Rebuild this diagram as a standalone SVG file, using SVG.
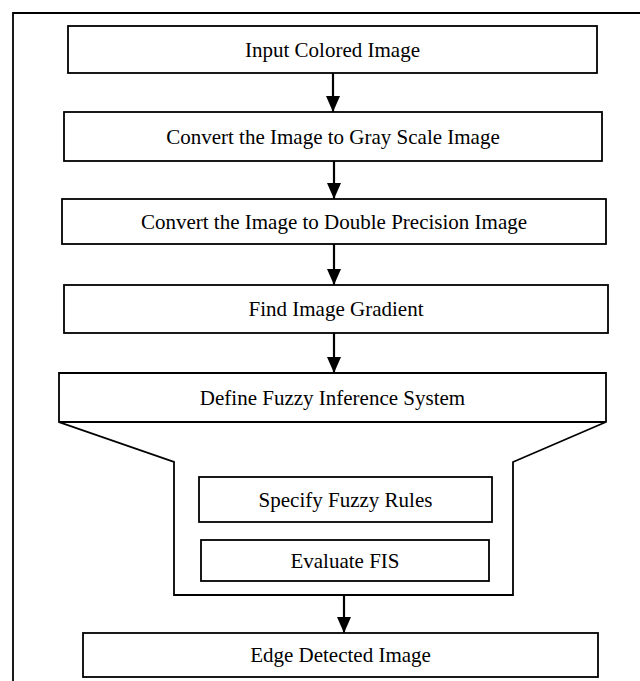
<svg xmlns="http://www.w3.org/2000/svg" width="640" height="681" viewBox="0 0 640 681">
<defs>
<style>
.box{fill:#fff;stroke:#000;stroke-width:1.8}
.lbl{font-family:"Liberation Serif","Times New Roman",serif;font-size:21px;fill:#000;text-anchor:middle}
.con{stroke:#000;stroke-width:2.2;fill:none}
</style>
<marker id="ah" markerUnits="userSpaceOnUse" markerWidth="16" markerHeight="14" viewBox="0 0 16 14" refX="16" refY="7" orient="auto">
<path d="M0,0 L16,7 L0,14 Z" fill="#000"/>
</marker>
</defs>
<rect width="640" height="681" fill="#fff"/>
<path d="M13,681 V13 H640" fill="none" stroke="#000" stroke-width="1.8"/>
<g id="n1"><rect class="box" x="68" y="26" width="529" height="47"/><text class="lbl" x="332.5" y="57">Input Colored Image</text></g>
<g id="n2"><rect class="box" x="64" y="112" width="538" height="49"/><text class="lbl" x="333" y="144">Convert the Image to Gray Scale Image</text></g>
<g id="n3"><rect class="box" x="62" y="199" width="544" height="45"/><text class="lbl" x="334" y="229">Convert the Image to Double Precision Image</text></g>
<g id="n4"><rect class="box" x="64" y="285" width="544" height="48"/><text class="lbl" x="336" y="316">Find Image Gradient</text></g>
<g id="n5"><path class="box" d="M59,373 H606 V422 L513,462 V595 H174 V462 L59,422 Z"/><line x1="59" y1="422" x2="606" y2="422" stroke="#000" stroke-width="1.8"/><text class="lbl" x="332.5" y="405">Define Fuzzy Inference System</text></g>
<g id="n6"><rect class="box" x="199" y="477" width="293" height="45"/><text class="lbl" x="345.5" y="507">Specify Fuzzy Rules</text></g>
<g id="n7"><rect class="box" x="201" y="540" width="288" height="41"/><text class="lbl" x="345" y="568">Evaluate FIS</text></g>
<g id="n8"><rect class="box" x="83" y="633" width="515" height="44"/><text class="lbl" x="340.5" y="662">Edge Detected Image</text></g>
<g id="connectors">
<line class="con" x1="333" y1="73" x2="333" y2="112" marker-end="url(#ah)"/>
<line class="con" x1="334" y1="161" x2="334" y2="199" marker-end="url(#ah)"/>
<line class="con" x1="334" y1="244" x2="334" y2="285" marker-end="url(#ah)"/>
<line class="con" x1="334" y1="333" x2="334" y2="373" marker-end="url(#ah)"/>
<line class="con" x1="344" y1="595" x2="344" y2="633" marker-end="url(#ah)"/>
</g>
</svg>
